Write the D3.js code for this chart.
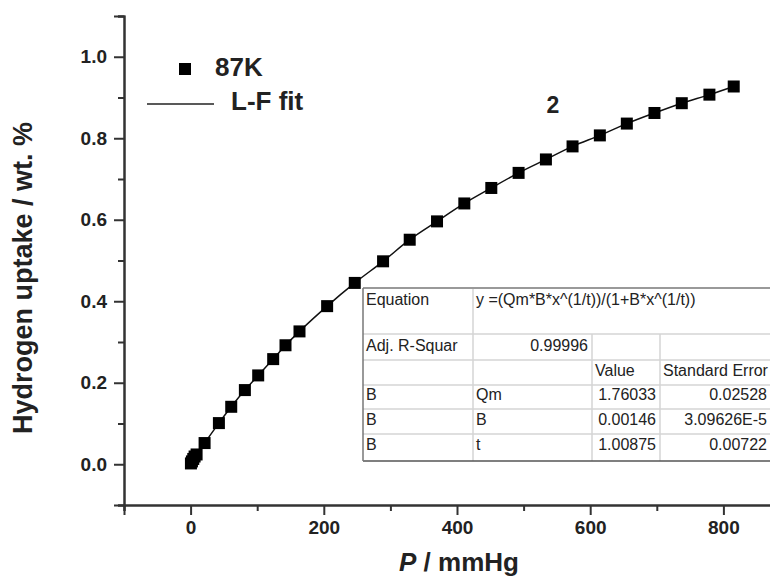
<!DOCTYPE html>
<html>
<head>
<meta charset="utf-8">
<script src="https://cdn.jsdelivr.net/npm/d3@7"></script>
<style>
  body { margin: 0; background: #fff; }
  svg { display: block; font-family: Arial, "Liberation Sans", sans-serif; }
</style>
</head>
<body>
<svg id="chart" width="770" height="579"></svg>
<script>
// measured hydrogen uptake at 87K
var pressure = [0.5, 2, 4, 6, 9, 21, 42.5, 61, 81.5, 101.5, 124, 142.5, 163.5, 205, 246.5,
  289, 329, 370, 411, 451.5, 492.5, 533.5, 573.5, 614.5, 655, 696.5, 737.5, 779, 815.5];
var uptake = [0.002, 0.007, 0.013, 0.019, 0.024, 0.052, 0.101, 0.141, 0.182, 0.218, 0.258, 0.292, 0.326, 0.388, 0.445,
  0.498, 0.551, 0.596, 0.640, 0.678, 0.715, 0.748, 0.780, 0.807, 0.836, 0.862, 0.886, 0.907, 0.927];

var xTicks = [0, 200, 400, 600, 800];
var yTicks = [0.0, 0.2, 0.4, 0.6, 0.8, 1.0];

// fit report table (rows of cells)
var tableRows = [
  ["Equation", "y =(Qm*B*x^(1/t))/(1+B*x^(1/t))"],
  ["Adj. R-Squar", "0.99996", "", ""],
  ["", "", "Value", "Standard Error"],
  ["B", "Qm", "1.76033", "0.02528"],
  ["B", "B", "0.00146", "3.09626E-5"],
  ["B", "t", "1.00875", "0.00722"]
];

var svg = d3.select("#chart");
var x = d3.scaleLinear().domain([-100, 900]).range([124, 790]);
var y = d3.scaleLinear().domain([-0.1, 1.1]).range([505, 16]);
var axisColor = "#333";

// minor ticks
var gx = svg.append("g").attr("transform", "translate(0,505)");
gx.call(d3.axisBottom(x).tickValues([-100, 100, 300, 500, 700, 900]).tickSize(6).tickFormat(""));
gx.append("g").call(d3.axisBottom(x).tickValues(xTicks).tickSize(10).tickPadding(6).tickFormat(d3.format("d")));
gx.selectAll("path").attr("stroke", axisColor).attr("stroke-width", 2);
gx.selectAll("line").attr("stroke", axisColor).attr("stroke-width", 2);
gx.selectAll("text").attr("font-size", 19).attr("font-weight", "bold").attr("fill", "#222")
  .attr("font-family", "Arial, 'Liberation Sans', sans-serif");

var gy = svg.append("g").attr("transform", "translate(124,0)");
gy.call(d3.axisLeft(y).tickValues([-0.1, 0.1, 0.3, 0.5, 0.7, 0.9, 1.1]).tickSize(6).tickFormat(""));
gy.append("g").call(d3.axisLeft(y).tickValues(yTicks).tickSize(10).tickPadding(7).tickFormat(d3.format(".1f")));
gy.selectAll("path").attr("stroke", axisColor).attr("stroke-width", 2);
gy.selectAll("line").attr("stroke", axisColor).attr("stroke-width", 2);
gy.selectAll("text").attr("font-size", 19).attr("font-weight", "bold").attr("fill", "#222")
  .attr("font-family", "Arial, 'Liberation Sans', sans-serif");

// axis titles
svg.append("text")
  .attr("transform", "translate(32,278) rotate(-90)")
  .attr("text-anchor", "middle")
  .attr("font-size", 27).attr("font-weight", "bold").attr("fill", "#222")
  .text("Hydrogen uptake / wt. %");

var xt = svg.append("text")
  .attr("x", 459).attr("y", 571)
  .attr("text-anchor", "middle")
  .attr("font-size", 26).attr("font-weight", "bold").attr("fill", "#222");
xt.append("tspan").attr("font-style", "italic").text("P");
xt.append("tspan").text(" / mmHg");

// fit curve and points
var pts = pressure.map(function (p, i) { return [p, uptake[i]]; });
var line = d3.line()
  .x(function (d) { return x(d[0]); })
  .y(function (d) { return y(d[1]); })
  .curve(d3.curveMonotoneX);
svg.append("path")
  .datum([[0, 0]].concat(pts))
  .attr("d", line)
  .attr("fill", "none").attr("stroke", "#111").attr("stroke-width", 1.5);

var sq = 12;
svg.append("g").selectAll("rect")
  .data(pts)
  .enter().append("rect")
  .attr("x", function (d) { return x(d[0]) - sq / 2; })
  .attr("y", function (d) { return y(d[1]) - sq / 2; })
  .attr("width", sq).attr("height", sq)
  .attr("fill", "#000");

// legend
svg.append("rect").attr("x", 179).attr("y", 63).attr("width", sq).attr("height", sq).attr("fill", "#000");
svg.append("text").attr("x", 215).attr("y", 76)
  .attr("font-size", 26).attr("font-weight", "bold").attr("fill", "#222").text("87K");
svg.append("line").attr("x1", 147).attr("x2", 214).attr("y1", 104).attr("y2", 104)
  .attr("stroke", "#222").attr("stroke-width", 1.5);
svg.append("text").attr("x", 231).attr("y", 110)
  .attr("font-size", 26).attr("font-weight", "bold").attr("fill", "#222").text("L-F fit");

svg.append("text").attr("x", 553).attr("y", 113).attr("text-anchor", "middle")
  .attr("font-size", 23).attr("font-weight", "bold").attr("fill", "#222").text("2");

// fit table
var colX = [363, 473, 592, 660, 780];
var rowY = [288, 334, 360, 385, 409, 434, 461];
var tbl = svg.append("g");
tbl.append("rect").attr("x", colX[0]).attr("y", rowY[0])
  .attr("width", colX[4] - colX[0]).attr("height", rowY[6] - rowY[0])
  .attr("fill", "#fff").attr("stroke", "none");

for (var r = 1; r < rowY.length - 1; r++) {
  tbl.append("line").attr("x1", colX[0]).attr("x2", colX[4]).attr("y1", rowY[r]).attr("y2", rowY[r])
    .attr("stroke", "#d4d4d4").attr("stroke-width", 1.5);
}
tbl.append("line").attr("x1", colX[1]).attr("x2", colX[1]).attr("y1", rowY[0]).attr("y2", rowY[6])
  .attr("stroke", "#d4d4d4").attr("stroke-width", 1.5);
[2, 3].forEach(function (c) {
  tbl.append("line").attr("x1", colX[c]).attr("x2", colX[c]).attr("y1", rowY[1]).attr("y2", rowY[6])
    .attr("stroke", "#d4d4d4").attr("stroke-width", 1.5);
});
// outer frame
tbl.append("line").attr("x1", colX[0]).attr("x2", colX[4]).attr("y1", rowY[0]).attr("y2", rowY[0])
  .attr("stroke", "#999").attr("stroke-width", 2);
tbl.append("line").attr("x1", colX[0]).attr("x2", colX[4]).attr("y1", rowY[6]).attr("y2", rowY[6])
  .attr("stroke", "#555").attr("stroke-width", 1.5);
tbl.append("line").attr("x1", colX[0]).attr("x2", colX[0]).attr("y1", rowY[0]).attr("y2", rowY[6])
  .attr("stroke", "#777").attr("stroke-width", 1.5);

// cell text: left aligned except numbers in value columns
var baseY = [305, 351, 376, 400, 425, 450];
tableRows.forEach(function (row, ri) {
  row.forEach(function (cell, ci) {
    if (!cell) return;
    var numeric = /^[0-9.]+(E-?\d+)?$/.test(cell);
    var t = tbl.append("text").attr("y", baseY[ri])
      .attr("font-size", 16).attr("fill", "#222").text(cell);
    if (numeric) {
      t.attr("x", ci === 3 ? 767 : colX[ci + 1] - 4).attr("text-anchor", "end");
    } else {
      t.attr("x", colX[ci] + 3);
    }
  });
});
</script>
</body>
</html>
